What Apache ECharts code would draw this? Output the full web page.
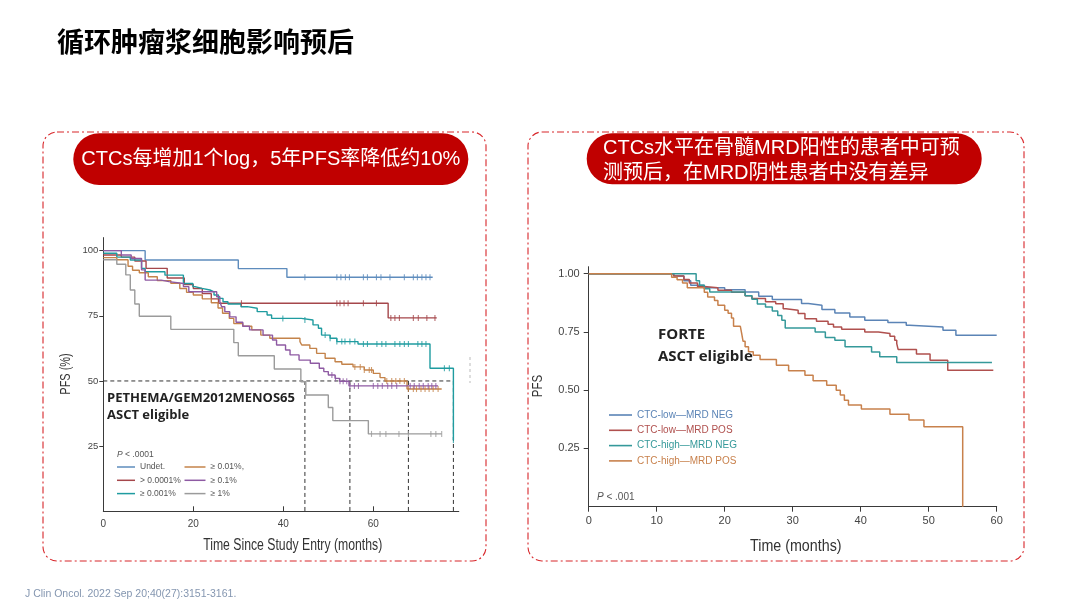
<!DOCTYPE html>
<html>
<head>
<meta charset="utf-8">
<script src="https://cdn.jsdelivr.net/npm/echarts@6/dist/echarts.min.js"></script>
<style>html,body{margin:0;padding:0;background:#fff}#c{width:1080px;height:608px}</style>
</head>
<body>
<div id="c"></div>
<script>
// ---------- Left chart (PETHEMA/GEM2012MENOS65), months vs PFS % ----------
const leftNames = ['Undet.', '> 0.0001%', '≥ 0.001%', '≥ 0.01%,', '≥ 0.1%', '≥ 1%'];
const leftColors = ['#5e8cbd', '#a5474b', '#1f9ca0', '#c4834a', '#8e5aa3', '#9b9b9b'];
const L_undet = [[0,100],[9.3,96.4],[30,93.1],[40.8,89.8],[73.2,89.8]];
const L_undetCens = [44.8,51.9,52.8,53.8,54.7,57.8,58.7,60.7,61.7,63.7,66.9,68.9,69.8,70.8,71.7,72.6];
const L_red = [[0,98.3],[4,97.5],[7,96],[9.5,93.2],[14.2,89.5],[18,87],[20,85.5],[22,83.5],[24,81.5],[25.6,79.8],[63.3,74.2],[74.1,74.2]];
const L_redCens = [30.7,51.9,52.6,53.5,54.4,57.8,60.7,63.9,64.8,65.8,68.9,70,71.9,73.7];
const L_teal = [[0,99],[3,97.5],[6,96.4],[8.5,93.2],[9.3,91.9],[13.7,90.6],[17.8,87.4],[19.9,86.2],[20.4,85.5],[21.9,84.9],[23.7,84.2],[24.6,83],[25.6,81.7],[26.6,80.4],[27.7,79.5],[30.6,78.5],[32,77.9],[34.2,76.6],[36.4,75.3],[37.4,74],[44,73.4],[46.6,71.5],[47.8,70.2],[48.5,67.6],[50.4,66.4],[51.9,65.1],[56.6,64.2],[72.6,54.9],[77.8,27.4]];
const L_tealCens = [39.9,44.8,49.3,50.4,51.9,53,53.7,54.8,55.9,57.8,58.7,60.8,61.9,62.8,64.8,65.9,66.9,67.8,69.9,70.8,71.7,75.8,76.9,77.8];
const L_orange = [[0,97.3],[3,96.5],[5.5,94],[6.5,92.5],[8,91.5],[10,90],[12,88.5],[15,87.5],[17,85.5],[18.5,84],[20,83],[22,81.5],[24,80],[25.5,78],[26.5,76],[28,74],[29,72],[31,71],[33,69.6],[35,67.6],[37,66.4],[43.7,65.1],[44.1,63.8],[45.9,62.5],[47.4,60.6],[49.3,58.7],[51.5,57.4],[53,56.4],[55.5,55.4],[58,54.2],[60,52.9],[61.5,51.3],[62.6,50],[67.5,46.9],[75.2,46.9]];
const L_orangeCens = [55.9,57.1,58,59.1,59.6,63,64.1,65,65.9,66.9,67.8,68.9,69.6,70.6,71.5,72.4,73.3,74.4];
const L_purple = [[0,100],[4,98.3],[6.2,97],[8.5,92.6],[9.3,88.7],[12.9,88.1],[14.6,87.4],[17.8,86.2],[19,84.2],[25.2,82.3],[25.9,80.4],[26.3,78.5],[27,76.6],[28.1,74.6],[29.5,72.5],[31,71],[32.5,69.6],[35.5,67.6],[37.6,65.7],[38.5,63.8],[40.5,61.9],[41.5,60],[43.5,58],[46,56.8],[48,54.9],[49,53.6],[50,52.3],[51.5,51],[52.5,49.9],[54.6,48.1],[74.4,48.1]];
const L_purpleCens = [50.8,51.6,52.6,53.3,54.1,54.8,55.8,56.7,60,61,62,63.2,64.1,65.2,68.2,69.1,70.2,71.1,72.2,73,73.9];
const L_gray = [[0,96.5],[3,94.8],[5,90.7],[6,84.9],[7,79.5],[8,74.8],[15,69.8],[29,64.7],[30,59.7],[38,54.6],[43.9,49.7],[45,44.6],[50,39.8],[51,34.8],[58.9,29.7],[75.2,29.7]];
const L_grayCens = [59.6,61.5,62.8,65.7,67.8,72.8,73.9,75.2];
const medianLevel = 50;
const medianTimes = [44.8, 54.8, 67.8, 77.8];
const leftXTicks = [0, 20, 40, 60];
const leftYTicks = [25, 50, 75, 100];

// ---------- Right chart (FORTE), months vs PFS proportion ----------
const rightNames = ['CTC-low—MRD NEG', 'CTC-low—MRD POS', 'CTC-high—MRD NEG', 'CTC-high—MRD POS'];
const rightColors = ['#5b84b6', '#b0504e', '#35999a', '#c8814c'];
const R_lowNeg = [[0,1],[12.5,0.99],[14,0.97],[15,0.95],[17,0.94],[20,0.931],[23,0.921],[25,0.903],[27,0.889],[31.3,0.872],[32.3,0.865],[34.3,0.846],[36.2,0.831],[38.4,0.814],[40.6,0.80],[44,0.79],[46.7,0.779],[47.2,0.771],[52.1,0.757],[54,0.736],[60,0.736]];
const R_lowPos = [[0,1],[12.5,0.99],[14,0.975],[14.8,0.96],[16,0.945],[17,0.94],[19,0.929],[21,0.92],[23,0.905],[24,0.893],[26,0.88],[27.5,0.871],[28.6,0.85],[29,0.843],[30.8,0.829],[31.8,0.807],[33.5,0.796],[35.2,0.783],[36,0.771],[37.2,0.762],[40.6,0.75],[42.6,0.743],[44.3,0.732],[45,0.714],[45.3,0.70],[45.5,0.675],[48.2,0.655],[50.2,0.629],[52.8,0.586],[59.5,0.586]];
const R_highNeg = [[0,1],[15.8,0.97],[16.3,0.95],[17,0.935],[17.8,0.921],[23,0.905],[24,0.89],[24.8,0.87],[26,0.857],[27,0.84],[27.8,0.821],[28.4,0.80],[28.9,0.767],[33.3,0.75],[34.8,0.726],[36.2,0.714],[37.7,0.686],[41.6,0.664],[42.8,0.643],[45.3,0.619],[59.3,0.619]];
const R_highPos = [[0,1],[12.2,0.985],[13,0.974],[13.8,0.96],[14.5,0.94],[17,0.92],[17.5,0.90],[18.5,0.885],[19,0.865],[20,0.843],[20.5,0.83],[21,0.81],[21.3,0.774],[22.3,0.77],[22.5,0.743],[22.7,0.71],[23,0.686],[23.5,0.665],[24.2,0.65],[25.2,0.632],[27.6,0.607],[29.4,0.583],[31.8,0.564],[33,0.54],[35,0.521],[36.4,0.50],[37,0.479],[37.6,0.457],[38.2,0.436],[40.1,0.419],[44.3,0.397],[47.1,0.372],[49.3,0.343],[55,0]];
const rightXTicks = [0, 10, 20, 30, 40, 50, 60];
const rightYTicks = [0.25, 0.5, 0.75, 1.0];

// ---------- build ----------
const ARIAL = "'Liberation Sans',Arial,sans-serif";
const CJK = "'Liberation Sans','Noto Sans CJK SC',sans-serif";

function valueAt(curve, t) {
  let v = curve[0][1];
  for (const p of curve) { if (p[0] <= t + 1e-9) v = p[1]; }
  return v;
}

const leftCurves = [L_undet, L_red, L_teal, L_orange, L_purple, L_gray];
const leftCens = [L_undetCens, L_redCens, L_tealCens, L_orangeCens, L_purpleCens, L_grayCens];
const rightCurves = [R_lowNeg, R_lowPos, R_highNeg, R_highPos];

const series = [];
leftCurves.forEach((c, i) => {
  series.push({
    name: leftNames[i], type: 'line', xAxisIndex: 0, yAxisIndex: 0, step: 'end',
    data: c, showSymbol: false, lineStyle: { color: leftColors[i], width: 1.4 },
    itemStyle: { color: leftColors[i] }, z: 3
  });
  series.push({
    name: leftNames[i] + ' censor', type: 'scatter', xAxisIndex: 0, yAxisIndex: 0,
    data: leftCens[i].map(t => [t, valueAt(c, t)]),
    symbol: 'rect', symbolSize: [1.1, 6], itemStyle: { color: leftColors[i] }, z: 3
  });
});
series.push({
  name: 'median-h', type: 'line', xAxisIndex: 0, yAxisIndex: 0,
  data: [[0, medianLevel], [medianTimes[medianTimes.length - 1], medianLevel]],
  showSymbol: false, lineStyle: { color: '#333', width: 1, type: [4, 3] }, z: 2
});
medianTimes.forEach((t, i) => {
  series.push({
    name: 'median-v' + i, type: 'line', xAxisIndex: 0, yAxisIndex: 0,
    data: [[t, medianLevel], [t, 0]],
    showSymbol: false, lineStyle: { color: '#333', width: 1, type: [4, 3] }, z: 2
  });
});
rightCurves.forEach((c, i) => {
  series.push({
    name: rightNames[i], type: 'line', xAxisIndex: 1, yAxisIndex: 1, step: 'end',
    data: c, showSymbol: false, lineStyle: { color: rightColors[i], width: 1.5 },
    itemStyle: { color: rightColors[i] }, z: 3
  });
});

const axisLineStyle = { lineStyle: { color: '#3a3a3a', width: 1 } };

const option = {
  animation: false,
  backgroundColor: '#fff',
  grid: [
    { left: 103.3, top: 237.6, width: 355.5, height: 273.7 },
    { left: 588.7, top: 266.7, width: 408, height: 240 }
  ],
  xAxis: [
    {
      gridIndex: 0, type: 'value', min: 0, max: 79,
      axisLine: axisLineStyle,
      axisTick: { inside: true, length: 5, customValues: leftXTicks, lineStyle: { color: '#3a3a3a' } },
      axisLabel: { customValues: leftXTicks, margin: 8, color: '#444', fontSize: 10, fontFamily: ARIAL },
      splitLine: { show: false }
    },
    {
      gridIndex: 1, type: 'value', min: 0, max: 60,
      axisLine: axisLineStyle,
      axisTick: { length: 5, customValues: rightXTicks, lineStyle: { color: '#3a3a3a' } },
      axisLabel: { customValues: rightXTicks, margin: 9, color: '#444', fontSize: 11, fontFamily: ARIAL },
      splitLine: { show: false }
    }
  ],
  yAxis: [
    {
      gridIndex: 0, type: 'value', min: 0, max: 105,
      axisLine: { show: true, ...axisLineStyle },
      axisTick: { show: true, length: 4, customValues: leftYTicks, lineStyle: { color: '#3a3a3a' } },
      axisLabel: { customValues: leftYTicks, margin: 5, color: '#444', fontSize: 9.5, fontFamily: ARIAL },
      splitLine: { show: false }
    },
    {
      gridIndex: 1, type: 'value', min: 0, max: 1.03,
      axisLine: { show: true, ...axisLineStyle },
      axisTick: { show: true, length: 5, customValues: rightYTicks, lineStyle: { color: '#3a3a3a' } },
      axisLabel: { customValues: rightYTicks, margin: 9, color: '#444', fontSize: 11, fontFamily: ARIAL,
        formatter: v => v.toFixed(2) },
      splitLine: { show: false }
    }
  ],
  legend: [
    {
      data: leftNames.slice(0, 3), orient: 'vertical', left: 117, top: 462,
      icon: 'rect', itemWidth: 18, itemHeight: 1.5, itemGap: 3.3, padding: 0,
      textStyle: { fontSize: 8.5, lineHeight: 10, color: '#555', fontFamily: ARIAL }, selectedMode: false
    },
    {
      data: leftNames.slice(3, 6), orient: 'vertical', left: 184.5, top: 462,
      icon: 'rect', itemWidth: 21, itemHeight: 1.5, itemGap: 3.3, padding: 0,
      textStyle: { fontSize: 8.5, lineHeight: 10, color: '#555', fontFamily: ARIAL }, selectedMode: false
    },
    {
      data: rightNames.map((n, i) => ({ name: n, textStyle: { color: rightColors[i] } })),
      orient: 'vertical', left: 609, top: 409,
      icon: 'rect', itemWidth: 23, itemHeight: 1.6, itemGap: 3.3, padding: 0,
      textStyle: { fontSize: 10, lineHeight: 12, fontFamily: ARIAL }, selectedMode: false
    }
  ],
  series: series,
  graphic: [
    { type: 'text', left: 57, top: 28, style: { text: '循环肿瘤浆细胞影响预后', font: "bold 27px 'Noto Sans CJK SC'", fill: '#000' } },
    { type: 'rect', shape: { x: 43, y: 132, width: 443, height: 429, r: 14 },
      style: { fill: 'none', stroke: '#d8262a', lineWidth: 1.1, lineDash: [7, 3, 2, 3] }, z: 1 },
    { type: 'rect', shape: { x: 528, y: 132, width: 496, height: 429, r: 14 },
      style: { fill: 'none', stroke: '#d8262a', lineWidth: 1.1, lineDash: [7, 3, 2, 3] }, z: 1 },
    { type: 'rect', shape: { x: 73.3, y: 133.3, width: 395, height: 51.7, r: 25.8 }, style: { fill: '#c00000' }, z: 5 },
    { type: 'text', x: 270.8, y: 159.5, style: { text: 'CTCs每增加1个log，5年PFS率降低约10%', fontFamily: CJK, fontSize: 20, fill: '#fff', align: 'center', verticalAlign: 'middle' }, z: 6 },
    { type: 'rect', shape: { x: 586.7, y: 133.3, width: 395, height: 51, r: 25.5 }, style: { fill: '#c00000' }, z: 5 },
    { type: 'text', x: 603, y: 161, style: { text: 'CTCs水平在骨髓MRD阳性的患者中可预\n测预后，在MRD阴性患者中没有差异', fontFamily: CJK, fontSize: 20, lineHeight: 25, fill: '#fff', align: 'left', verticalAlign: 'middle' }, z: 6 },
    { type: 'text', x: 107, y: 398.5, style: { text: 'PETHEMA/GEM2012MENOS65', font: "bold 13px 'Open Sans'", fill: '#222', verticalAlign: 'middle' }, z: 6 },
    { type: 'text', x: 107, y: 415.5, style: { text: 'ASCT eligible', font: "bold 13px 'Open Sans'", fill: '#222', verticalAlign: 'middle' }, z: 6 },
    { type: 'text', x: 117, y: 454.5, style: { text: '{i|P} < .0001', rich: { i: { fontStyle: 'italic', fontSize: 8.5, fill: '#555', fontFamily: ARIAL } }, fontSize: 8.5, fontFamily: ARIAL, fill: '#555', verticalAlign: 'middle' }, z: 6 },
    { type: 'text', x: 658, y: 335, style: { text: 'FORTE', font: "bold 15px 'Open Sans'", fill: '#222', verticalAlign: 'middle' }, z: 6 },
    { type: 'text', x: 658, y: 357, style: { text: 'ASCT eligible', font: "bold 15px 'Open Sans'", fill: '#222', verticalAlign: 'middle' }, z: 6 },
    { type: 'text', x: 597, y: 497, style: { text: '{i|P} < .001', rich: { i: { fontStyle: 'italic', fontSize: 10, fill: '#555', fontFamily: ARIAL } }, fontSize: 10, fontFamily: ARIAL, fill: '#555', verticalAlign: 'middle' }, z: 6 },
    // axis names (condensed look via horizontal scale)
    { type: 'text', x: 292.7, y: 545.5, scaleX: 0.765, style: { text: 'Time Since Study Entry (months)', fontFamily: ARIAL, fontSize: 16, fill: '#333', align: 'center', verticalAlign: 'middle' }, z: 6 },
    { type: 'text', x: 66, y: 374, rotation: Math.PI / 2, scaleX: 0.78, style: { text: 'PFS (%)', fontFamily: ARIAL, fontSize: 14, fill: '#333', align: 'center', verticalAlign: 'middle' }, z: 6 },
    { type: 'text', x: 795.8, y: 546, scaleX: 0.84, style: { text: 'Time (months)', fontFamily: ARIAL, fontSize: 17, fill: '#333', align: 'center', verticalAlign: 'middle' }, z: 6 },
    { type: 'text', x: 538, y: 386, rotation: Math.PI / 2, scaleX: 0.82, style: { text: 'PFS', fontFamily: ARIAL, fontSize: 14, fill: '#333', align: 'center', verticalAlign: 'middle' }, z: 6 },
    { type: 'line', shape: { x1: 470, y1: 357, x2: 470, y2: 383 }, style: { stroke: '#bbb', lineWidth: 1, lineDash: [3, 3] }, z: 6 },
    { type: 'text', x: 25, y: 594, style: { text: 'J Clin Oncol. 2022 Sep 20;40(27):3151-3161.', fontFamily: ARIAL, fontSize: 10.5, fill: '#8496b0', verticalAlign: 'middle' }, z: 6 }
  ]
};

const chart = echarts.init(document.getElementById('c'), null, { renderer: 'canvas' });
chart.setOption(option);
</script>
</body>
</html>
